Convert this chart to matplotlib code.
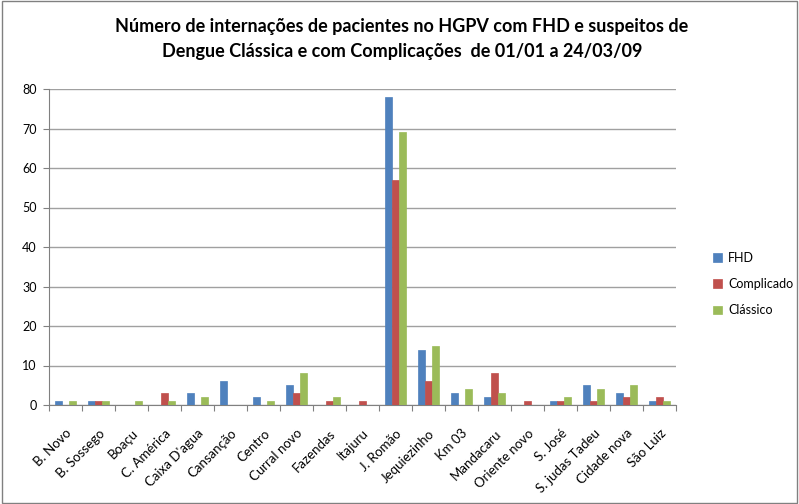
import numpy as np
import matplotlib
matplotlib.use("Agg")
import matplotlib.pyplot as plt

plt.rcParams['font.family'] = ['Lato', 'DejaVu Sans']

bairros = ["B. Novo", "B. Sossego", "Boaçu", "C. América", "Caixa D'agua",
           "Cansanção", "Centro", "Curral novo", "Fazendas", "Itajuru",
           "J. Romão", "Jequiezinho", "Km 03", "Mandacaru", "Oriente novo",
           "S. José", "S. judas Tadeu", "Cidade nova", "São Luiz"]
fhd = [1, 1, 0, 0, 3, 6, 2, 5, 0, 0, 78, 14, 3, 2, 0, 1, 5, 3, 1]
complicado = [0, 1, 0, 3, 0, 0, 0, 3, 1, 1, 57, 6, 0, 8, 1, 1, 1, 2, 2]
classico = [1, 1, 1, 1, 2, 0, 1, 8, 2, 0, 69, 15, 4, 3, 0, 2, 4, 5, 1]
series_names = ["FHD", "Complicado", "Clássico"]
cores = ["#4F81BD", "#C0504D", "#9BBB59"]

fig = plt.figure(figsize=(7.99, 5.04), dpi=100)
ax = fig.add_axes([49 / 799, 99 / 504, 627 / 799, 316 / 504])

x = np.arange(len(bairros)) + 0.5
w = 0.21
for i, (vals, nome, cor) in enumerate(zip([fhd, complicado, classico], series_names, cores)):
    ax.bar(x + (i - 1) * w, vals, w, color=cor, edgecolor=cor, linewidth=0.5,
           label=nome, zorder=3)

ax.set_xlim(0, len(bairros))
ax.set_ylim(0, 80)
ax.set_yticks(range(0, 81, 10))
ax.yaxis.grid(True, color="#A0A0A0", linewidth=1)
ax.set_axisbelow(True)
ax.set_xticks(range(len(bairros) + 1), minor=False)
ax.set_xticklabels([])
ax.set_xticks(x, minor=True)
ax.set_xticklabels(bairros, minor=True, rotation=45, ha="right",
                   rotation_mode="anchor", fontsize=9.5)
ax.tick_params(axis="x", which="minor", length=0, pad=16)
ax.tick_params(axis="x", which="major", length=4, color="#808080")
ax.tick_params(axis="y", length=4, color="#808080", labelsize=9, pad=5)
for s in ["top", "right"]:
    ax.spines[s].set_visible(False)
for s in ["left", "bottom"]:
    ax.spines[s].set_color("#808080")

fig.text(0.503, 0.948, "Número de internações de pacientes no HGPV com FHD e suspeitos de",
         ha="center", va="center", fontsize=13, fontweight="bold")
fig.text(0.503, 0.898, "Dengue Clássica e com Complicações  de 01/01 a 24/03/09",
         ha="center", va="center", fontsize=13, fontweight="bold")

ax.legend(loc="center left", bbox_to_anchor=(702 / 799, 1 - 284 / 504),
          bbox_transform=fig.transFigure, frameon=False, fontsize=9,
          handlelength=0.7, handleheight=0.7, handletextpad=0.5, labelspacing=1.15)

fig.patches.append(plt.Rectangle((0.002, 0.002), 0.996, 0.996, transform=fig.transFigure,
                                 fill=False, edgecolor="#808080", linewidth=1))

fig.savefig("out.png", dpi=100)
